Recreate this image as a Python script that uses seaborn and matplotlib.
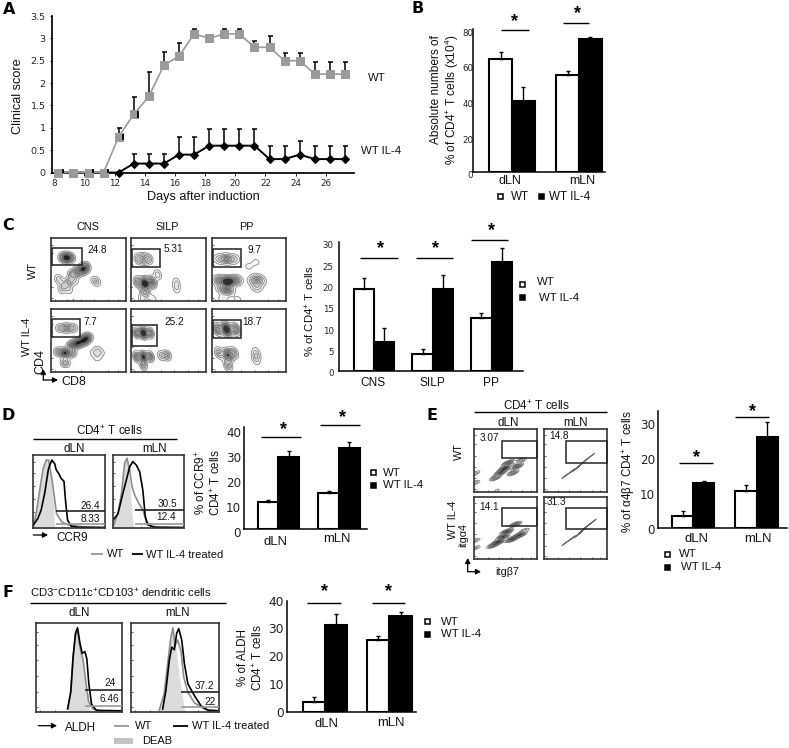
import numpy as np
import pandas as pd
import matplotlib
matplotlib.use("Agg")
import matplotlib.pyplot as plt
from matplotlib.patches import Rectangle
from matplotlib.transforms import ScaledTranslation
import seaborn as sns

sns.set_theme(style="white")
plt.rcParams['font.family'] = ['Liberation Sans', 'DejaVu Sans']
plt.rcParams['mathtext.default'] = 'regular'
plt.rcParams['axes.edgecolor'] = 'black'

W, H = 789, 748
fig = plt.figure(figsize=(W / 100, H / 100), dpi=100)

# --------------------- Data ---------------------

# A
days = list(range(8, 28))
wt_score = [0, 0, 0, 0, .8, 1.3, 1.7, 2.4, 2.6, 3.1, 3.0, 3.1, 3.1, 2.8, 2.8, 2.5, 2.5, 2.2, 2.2, 2.2]
wt_top = [0, 0, 0, 0, 1.0, 1.68, 2.25, 2.7, 2.9, 3.2, 3.0, 3.2, 3.2, 2.93, 3.05, 2.67, 2.67, 2.47, 2.47, 2.47]
il4_score = [0, 0, 0, 0, 0, .2, .2, .2, .4, .4, .6, .6, .6, .6, .3, .3, .4, .3, .3, .3]
il4_top = [0, 0, 0, 0, 0, .41, .41, .41, .8, .8, .97, .97, .97, .97, .6, .6, .7, .6, .6, .6]
day_ticks = list(range(8, 27, 2))
score_ticks = [0, .5, 1, 1.5, 2, 2.5, 3, 3.5]
score_labels = ['0', '0.5', '1', '1.5', '2', '2.5', '3', '3.5']
wt_mark_days = [8, 10, 11, 12, 13]

# bars
lymph = ['dLN', 'mLN']
b_wt, b_wt_top = [63, 54.2], [67.3, 56.6]
b_il4, b_il4_top = [39.8, 74.2], [47.7, 75.7]
sites = ['CNS', 'SILP', 'PP']
c_wt, c_wt_top = [19.1, 4.1, 12.5], [21.8, 5.2, 13.5]
c_il4, c_il4_top = [6.9, 19.1, 25.6], [10.0, 22.4, 28.8]
d_wt, d_wt_top = [10.5, 14.2], [11.6, 15]
d_il4, d_il4_top = [28.7, 32.4], [31.2, 34.7]
e_wt, e_wt_top = [3.6, 10.7], [4.8, 12.4]
e_il4, e_il4_top = [12.9, 26.2], [13.4, 30.5]
f_wt, f_wt_top = [3.4, 25.7], [5.4, 27.4]
f_il4, f_il4_top = [31.3, 34.5], [35.3, 35.9]

# C contour populations, as fractions of the plot frame
cns_wt_x = [.15, .21, .27, .28, .35, .42, .47, .10, .17, .24, .32, .14, .24, .58, .62, .30, .50]
cns_wt_y = [.69, .69, .69, .42, .46, .50, .54, .35, .25, .18, .32, .18, .30, .33, .30, .02, .02]
cns_wt_w = [2, 5, 2, 2, 3, 4, 3, 1.5, 1.5, 1, 1, 1, 2, 1, 1, .5, .4]
silp_wt_x = [.10, .17, .24, .10, .19, .28, .19, .36, .61, .61, .15, .30, .62]
silp_wt_y = [.67, .67, .67, .30, .28, .30, .14, .42, .30, .20, .03, .03, .03]
silp_wt_w = [1.2, 2, 1.2, 2, 5, 3, 2, 1, .7, .7, .8, .6, .3]
pp_wt_x = [.10, .20, .30, .10, .22, .33, .22, .14, .56, .61, .66, .61, .50, .60, .15, .35, .65]
pp_wt_y = [.67, .67, .67, .33, .31, .33, .17, .20, .32, .36, .32, .22, .55, .62, .03, .03, .03]
pp_wt_w = [1.5, 3, 1.5, 3, 6, 3, 3, 2, 1.5, 1.5, 1.5, 1.5, .6, .6, .8, .6, .4]
cns_il4_x = [.12, .21, .30, .28, .36, .44, .49, .10, .19, .28, .19, .57, .62, .67, .62, .30, .55]
cns_il4_y = [.70, .70, .70, .42, .46, .50, .55, .32, .30, .30, .14, .30, .36, .30, .22, .02, .02]
cns_il4_w = [1.5, 2.5, 1.5, 3, 4, 4, 3, 2, 4, 2, 2, .8, .8, .8, .8, .5, .3]
silp_il4_x = [.08, .17, .26, .08, .17, .26, .17, .40, .46, .50]
silp_il4_y = [.62, .62, .62, .24, .24, .24, .10, .26, .26, .26]
silp_il4_w = [2, 4, 2, 2, 3, 2, 1.5, 1, 1, 1]
pp_il4_x = [.08, .20, .32, .10, .22, .30, .22, .58, .60, .62, .60]
pp_il4_y = [.68, .68, .68, .30, .27, .30, .10, .25, .33, .25, .17]
pp_il4_w = [3, 6, 3, 2, 4, 2, 2, .7, .7, .7, .7]

# E contour populations
e_dln_wt_x = [.34, .42, .49, .54, .62, .68, .74, .02, .02, .36]
e_dln_wt_y = [.23, .31, .38, .46, .31, .41, .50, .30, .15, .03]
e_dln_wt_w = [2, 3, 4, 3, 2, 3, 1.5, 1, 1, .5]
e_mln_wt_x = [.34, .44, .52, .60, .68, .76]
e_mln_wt_y = [.26, .33, .38, .45, .52, .58]
e_mln_wt_w = [1.5, 2, 4, 2.5, 1.5, 1]
e_dln_il4_x = [.30, .39, .46, .52, .60, .66, .73, .80, .02, .02]
e_dln_il4_y = [.22, .28, .36, .44, .32, .56, .39, .46, .30, .18]
e_dln_il4_w = [2, 3, 3, 3, 3, 2, 3, 1, 1, 1]
e_mln_il4_x = [.34, .44, .55, .62, .70, .78]
e_mln_il4_y = [.26, .33, .40, .47, .54, .60]
e_mln_il4_w = [1.5, 2, 4, 3, 2, 1.5]

# D histograms
d1_fill_x = [0, .04, .09, .135, .18, .215, .25, .28, .30]
d1_fill_y = [.02, .2, .52, .8, .93, .95, .66, .35, 0]
d1_wt_x = [0, .04, .09, .135, .18, .215, .27, .325, .395, .49, .7, 1]
d1_wt_y = [.02, .2, .52, .8, .93, .93, .61, .2, .09, .045, .02, .01]
d1_il4_x = [0, .065, .11, .16, .21, .23, .26, .30, .32, .355, .39, .43, .45, .48, .53, .63, 1]
d1_il4_y = [.045, .135, .25, .48, .8, .86, .93, .88, .8, .75, .68, .64, .39, .11, .03, .014, .01]
d2_fill_x = [.01, .07, .12, .164, .197, .235, .27, .296]
d2_fill_y = [.045, .2, .48, .89, .955, .66, .16, 0]
d2_wt_x = [.01, .07, .12, .164, .197, .235, .268, .305, .352, .42, .47, .54, .68, 1]
d2_wt_y = [.045, .2, .48, .89, .955, .795, .57, .455, .36, .25, .09, .03, .014, .01]
d2_il4_x = [0, .07, .14, .188, .235, .28, .33, .376, .42, .455, .49, .587, 1]
d2_il4_y = [.11, .2, .48, .66, .84, .91, .86, .77, .52, .16, .045, .014, .01]

# F histograms
f1_fill_x = [.375, .405, .432, .46, .483, .51, .548, .587, .625]
f1_fill_y = [.03, .24, .62, .87, .93, .73, .6, .275, .03]
f1_wt_x = [.375, .405, .432, .46, .483, .51, .548, .58, .61, .66, .75, 1]
f1_wt_y = [.03, .24, .62, .87, .93, .73, .58, .33, .12, .03, .01, .01]
f1_il4_x = [.367, .405, .432, .46, .483, .51, .537, .568, .59, .614, .645, .70, 1]
f1_il4_y = [.03, .22, .62, .89, .95, .78, .66, .68, .6, .315, .085, .015, .01]
f2_fill_x = [.324, .38, .42, .458, .48, .515, .553, .61]
f2_fill_y = [.015, .2, .545, .85, .93, .7, .39, .03]
f2_wt_x = [.324, .38, .42, .458, .48, .504, .534, .573, .603, .65, .725, .84, 1]
f2_wt_y = [.015, .2, .545, .85, .95, .75, .81, .68, .39, .22, .1, .027, .01]
f2_il4_x = [.363, .40, .439, .466, .496, .523, .546, .58, .61, .65, .725, .80, .88, 1]
f2_il4_y = [.027, .24, .585, .73, .70, .89, .94, .81, .545, .315, .18, .065, .015, .01]


# --------------------- Helper functions ---------------------

def px_axes(x0, y0, x1, y1):
    return fig.add_axes([x0 / W, 1 - y1 / H, (x1 - x0) / W, (y1 - y0) / H])


over = fig.add_axes([0, 0, 1, 1], zorder=20)
over.set_xlim(0, W)
over.set_ylim(H, 0)
over.axis('off')
over.patch.set_alpha(0)


def txt(x, y, s, size=8, ha='center', rot=0, **kw):
    over.text(x, y, s, fontsize=size, ha=ha, va='center', rotation=rot, color='#111111', **kw)


def letter(x, y, s):
    txt(x, y, s, 11.5, family='DejaVu Sans', fontweight='bold', color=None) if False else \
        over.text(x, y, s, fontsize=11.5, ha='center', va='center', family='DejaVu Sans',
                  fontweight='bold', color='black')


def line(x0, y0, x1, y1, color='black', lw=1.0):
    over.plot([x0, x1], [y0, y1], color=color, lw=lw, solid_capstyle='butt')


def sig(x0, x1, y, star_x, star_y):
    line(x0, y, x1, y)
    over.text(star_x, star_y + 2.5, '*', fontsize=13, ha='center', va='center',
              fontweight='bold', color='black')


def square(x, y, filled):
    over.add_patch(Rectangle((x - 2.5, y - 2.5), 5, 5, fc='black' if filled else 'white',
                             ec='black', lw=1.1))


def gate(x0, y0, x1, y1):
    over.add_patch(Rectangle((x0, y0), x1 - x0, y1 - y0, fc='none', ec='#222222', lw=1.1))


def arrow(x0, y0, x1, y1):
    over.annotate('', xy=(x1, y1), xytext=(x0, y0),
                  arrowprops=dict(arrowstyle='-|>,head_width=.13,head_length=.25', color='black',
                                  lw=.9, shrinkA=0, shrinkB=0))


def bars(box, cats, wt, il4, wt_top, il4_top, width, xlim, ymax, ticks, tick_size, dy=0, pad=2):
    ax = px_axes(*box)
    df = pd.DataFrame({'site': cats * 2,
                       'group': ['WT'] * len(cats) + ['WT IL-4'] * len(cats),
                       'value': wt + il4})
    sns.barplot(data=df, x='site', y='value', hue='group', ax=ax, width=width, gap=0, saturation=1,
                palette={'WT': 'white', 'WT IL-4': 'black'}, edgecolor='black', linewidth=1.5,
                errorbar=None, legend=False)
    xs = [p.get_x() + p.get_width() / 2 for p in ax.patches]
    vals = wt + il4
    tops = wt_top + il4_top
    ax.errorbar(xs, vals, yerr=[[0] * len(vals), [t - v for t, v in zip(tops, vals)]], fmt='none',
                ecolor='black', elinewidth=1.0, capsize=1.7, capthick=1.0)
    ax.set_xlim(*xlim)
    ax.set_ylim(0, ymax)
    ax.set_xlabel('')
    ax.set_ylabel('')
    ax.set_xticks([])
    ax.set_yticks(ticks)
    ax.set_yticklabels([str(t) for t in ticks], family='DejaVu Sans', fontsize=tick_size)
    ax.tick_params(axis='y', length=0, pad=pad, colors='#222222')
    for lab in ax.get_yticklabels():
        lab.set_transform(lab.get_transform() + ScaledTranslation(0, -dy / 100, fig.dpi_scale_trans))
    sns.despine(ax=ax)
    for s in ['left', 'bottom']:
        ax.spines[s].set_linewidth(1.1)
    ax.patch.set_alpha(0)
    return ax


def flow_frame(ax):
    ax.set_xlim(0, 1)
    ax.set_ylim(0, 1)
    ax.set_xlabel('')
    ax.set_ylabel('')
    ax.set_xticks([.05, .22, .4, .58, .76, .9])
    ax.set_yticks([.05, .22, .4, .58, .76, .9])
    ax.set_xticklabels([])
    ax.set_yticklabels([])
    ax.tick_params(direction='in', length=1.5, width=.5, left=True, bottom=True, color='#222222')
    for s in ax.spines.values():
        s.set_linewidth(1.2)
        s.set_color('#333333')


def contour(box, xs, ys, ws):
    ax = px_axes(*box)
    sns.kdeplot(x=xs, y=ys, weights=ws, ax=ax, fill=True, cmap='Greys', levels=12, thresh=.03,
                bw_method=.26, gridsize=120)
    sns.kdeplot(x=xs, y=ys, weights=ws, ax=ax, color='#666666', levels=7, thresh=.12,
                linewidths=.45, bw_method=.26, gridsize=120)
    flow_frame(ax)


def histo(box, fill_x, fill_y, wt_x, wt_y, il4_x, il4_y):
    ax = px_axes(*box)
    ax.fill_between(fill_x, fill_y, color='#dcdcdc', lw=0)
    sns.lineplot(x=wt_x, y=wt_y, ax=ax, color='#8c8c8c', lw=1.2, estimator=None, sort=False)
    sns.lineplot(x=il4_x, y=il4_y, ax=ax, color='black', lw=1.2, estimator=None, sort=False)
    flow_frame(ax)


# --------------------- Panel A ---------------------
ax = px_axes(52.3, 16, 354, 172.5)
ax.errorbar(days, wt_score, yerr=[[0] * 20, [t - v for t, v in zip(wt_top, wt_score)]], fmt='none',
            ecolor='black', elinewidth=1.1, capsize=1.8, capthick=1.1)
ax.errorbar(days, il4_score, yerr=[[0] * 20, [t - v for t, v in zip(il4_top, il4_score)]], fmt='none',
            ecolor='black', elinewidth=1.1, capsize=1.8, capthick=1.1)
sns.lineplot(x=days, y=il4_score, ax=ax, color='black', lw=1.4, marker='D', markersize=4,
             markeredgecolor='black', clip_on=False, zorder=3)
sns.lineplot(x=days, y=wt_score, ax=ax, color='#9a9a9a', lw=1.2, marker='s', markersize=5.2,
             markeredgecolor='#9a9a9a', clip_on=False, zorder=4)
ax.vlines([d + .29 for d in wt_mark_days], [wt_score[d - 8] - .07 for d in wt_mark_days],
          [wt_score[d - 8] + .07 for d in wt_mark_days], color='black', lw=1.3, zorder=5)
ax.set_xlim(7.6, 27.6)
ax.set_ylim(0, 3.5)
ax.set_xticks([d - .27 for d in day_ticks])
ax.set_xticklabels([str(d) for d in day_ticks], family='DejaVu Sans', fontsize=6.3)
ax.set_yticks(score_ticks)
ax.set_yticklabels(score_labels, family='DejaVu Sans', fontsize=6.8)
ax.tick_params(axis='both', length=1.8, width=.7, pad=3, left=True, bottom=True, colors='#222222')
sns.despine(ax=ax)
ax.patch.set_alpha(0)
letter(9, 9, 'A')
txt(18, 96, 'Clinical score', 9.2, rot=90)
txt(203, 197, 'Days after induction', 9.2)
txt(368, 78, 'WT', 8.2, ha='left')
txt(361, 151, 'WT IL-4', 8.2, ha='left')

# --------------------- Panel B ---------------------
bars((473.3, 29, 605, 171.7), lymph, b_wt, b_il4, b_wt_top, b_il4_top, .68, (-.578, 1.39), 80,
     [0, 20, 40, 60, 80], 6.2, dy=3.3, pad=0)
letter(418, 8, 'B')
txt(436, 90, 'Absolute numbers of', 8.6, rot=90)
txt(451.7, 100, '% of CD4$^{+}$ T cells (x10$^{4}$)', 8.6, rot=90)
txt(510, 181, 'dLN', 9)
txt(582, 181, 'mLN', 9)
square(501, 196, False)
square(541.7, 196, True)
txt(510.7, 196.5, 'WT', 8.4, ha='left')
txt(549, 196.5, 'WT IL-4', 8.4, ha='left')
sig(500.7, 528.7, 30.3, 515, 19.3)
sig(563.3, 589.3, 23, 577.7, 10.7)

# --------------------- Panel C ---------------------
c_cols = [(51, 125.7), (130.7, 205.7), (211.7, 285.7)]
c_rows = [(238.3, 301), (309.3, 371.7)]
contour((c_cols[0][0], c_rows[0][0], c_cols[0][1], c_rows[0][1]), cns_wt_x, cns_wt_y, cns_wt_w)
contour((c_cols[1][0], c_rows[0][0], c_cols[1][1], c_rows[0][1]), silp_wt_x, silp_wt_y, silp_wt_w)
contour((c_cols[2][0], c_rows[0][0], c_cols[2][1], c_rows[0][1]), pp_wt_x, pp_wt_y, pp_wt_w)
contour((c_cols[0][0], c_rows[1][0], c_cols[0][1], c_rows[1][1]), cns_il4_x, cns_il4_y, cns_il4_w)
contour((c_cols[1][0], c_rows[1][0], c_cols[1][1], c_rows[1][1]), silp_il4_x, silp_il4_y, silp_il4_w)
contour((c_cols[2][0], c_rows[1][0], c_cols[2][1], c_rows[1][1]), pp_il4_x, pp_il4_y, pp_il4_w)
gate(51.7, 248.3, 81.7, 265)
gate(131.7, 249.3, 160, 266.7)
gate(212.7, 249.3, 241, 267.3)
gate(51.7, 319, 80.3, 336.7)
gate(131.7, 325, 156.7, 345.7)
gate(212.7, 320.3, 241, 338.3)
txt(96.7, 250, '24.8', 7.2)
txt(173.7, 249.3, '5.31', 7.2)
txt(254.3, 250, '9.7', 7.2)
txt(90, 322.3, '7.7', 7.2)
txt(174.3, 321.7, '25.2', 7.2)
txt(252.3, 322, '18.7', 7.2)
letter(8, 225, 'C')
txt(88.3, 226.7, 'CNS', 7.8)
txt(167.3, 226.7, 'SILP', 7.8)
txt(246.7, 226.7, 'PP', 7.8)
txt(33.3, 270, 'WT', 7.8, rot=90)
txt(26.7, 336.7, 'WT IL-4', 7.8, rot=90)
txt(40, 361.7, 'CD4', 9, rot=90)
txt(74, 382.3, 'CD8', 9)
arrow(43.3, 380, 43.3, 369)
arrow(43.3, 380, 58, 380)

bars((339.3, 241.7, 523.3, 371), sites, c_wt, c_il4, c_wt_top, c_il4_top, .69, (-.59, 2.54), 30.3,
     [0, 5, 10, 15, 20, 25, 30], 6.2, dy=2, pad=4)
txt(310.7, 311.7, '% of CD4$^{+}$ T cells', 8.2, rot=90)
txt(373, 383.3, 'CNS', 8.6)
txt(432, 383.3, 'SILP', 8.6)
txt(491.3, 383.3, 'PP', 8.6)
sig(360.3, 397.7, 258.3, 380.7, 245.7)
sig(415.7, 453, 258.3, 436, 245.7)
sig(471.3, 508.3, 240, 491.7, 227.7)
square(522.7, 284.3, False)
square(522.7, 297.7, True)
txt(536.7, 282, 'WT', 8.2, ha='left')
txt(539.3, 297.5, 'WT IL-4', 8.2, ha='left')

# --------------------- Panel D ---------------------
histo((33.3, 455, 104.7, 528.3), d1_fill_x, d1_fill_y, d1_wt_x, d1_wt_y, d1_il4_x, d1_il4_y)
histo((113, 455, 184, 528.3), d2_fill_x, d2_fill_y, d2_wt_x, d2_wt_y, d2_il4_x, d2_il4_y)
line(56.3, 511, 104.7, 511, '#222222', 1.2)
line(56.3, 524.3, 104.7, 524.3, '#999999', 1.2)
line(135, 510.3, 184, 510.3, '#222222', 1.2)
line(135, 524, 184, 524, '#999999', 1.2)
txt(90.3, 505.7, '26.4', 7.2)
txt(90.3, 519, '8.33', 7.2)
txt(167.3, 504.3, '30.5', 7.2)
txt(166.3, 517.3, '12.4', 7.2)
letter(8, 415, 'D')
txt(109.3, 430.7, 'CD4$^{+}$ T cells', 8.4)
line(33.3, 439, 176.7, 439)
txt(74, 449, 'dLN', 8.4)
txt(154.3, 449, 'mLN', 8.4)
arrow(33.3, 535, 48, 535)
txt(71.7, 538.3, 'CCR9', 8.4)
line(90.7, 554, 102.7, 554, '#999999', 1.3)
txt(107, 554, 'WT', 8, ha='left')
line(131.7, 554, 142.7, 554, 'black', 1.3)
txt(146, 554.5, 'WT IL-4 treated', 8, ha='left')

bars((244, 427.3, 366.7, 528.7), lymph, d_wt, d_il4, d_wt_top, d_il4_top, .68, (-.565, 1.456), 40.6,
     [0, 10, 20, 30, 40], 8.6, dy=3, pad=2)
txt(200.7, 483, '% of CCR9$^{+}$', 8.4, rot=90)
txt(216, 483, 'CD4$^{+}$ T cells', 8.4, rot=90)
txt(275, 541.7, 'dLN', 9.4)
txt(336.7, 539.3, 'mLN', 9.4)
sig(260.7, 301, 437.3, 283.3, 427)
sig(319.7, 360, 424.7, 342.3, 415)
square(374, 472.7, False)
square(374, 485, True)
txt(382.7, 472.7, 'WT', 8.2, ha='left')
txt(382.7, 485, 'WT IL-4', 8.2, ha='left')

# --------------------- Panel E ---------------------
contour((474, 429, 537, 492.3), e_dln_wt_x, e_dln_wt_y, e_dln_wt_w)
contour((544, 429, 606.7, 492.3), e_mln_wt_x, e_mln_wt_y, e_mln_wt_w)
contour((474, 496.7, 537, 559.3), e_dln_il4_x, e_dln_il4_y, e_dln_il4_w)
contour((544, 496.7, 606.7, 559.3), e_mln_il4_x, e_mln_il4_y, e_mln_il4_w)
gate(501.7, 440.7, 537, 458.3)
gate(565.7, 440.7, 606.7, 463.3)
gate(501.7, 508.3, 537, 526)
gate(565.7, 508.3, 606.7, 529.3)
txt(489.3, 438.3, '3.07', 7.2)
txt(559.3, 436, '14.8', 7.2)
txt(489.3, 506.7, '14.1', 7.2)
txt(556.7, 502.3, '31.3', 7.2)
letter(432, 415, 'E')
txt(536.7, 405.7, 'CD4$^{+}$ T cells', 8.4)
line(474, 412.3, 606.7, 412.3)
txt(508.3, 422.7, 'dLN', 8.4)
txt(576, 422.7, 'mLN', 8.4)
txt(459.3, 451.7, 'WT', 7.8, rot=90)
txt(452.7, 520, 'WT IL-4', 7.8, rot=90)
txt(463.3, 535, 'itg\u03b14', 7.8, rot=90)
txt(506.7, 572.3, 'itg\u03b27', 7.8)
arrow(467.7, 571.7, 467.7, 558)
arrow(467.7, 571.7, 481, 571.7)

bars((657.7, 410.7, 786.7, 528.3), lymph, e_wt, e_il4, e_wt_top, e_il4_top, .668, (-.562, 1.475), 33.6,
     [0, 10, 20, 30], 8.6, dy=1, pad=2)
txt(628.3, 471.7, '% of \u03b14\u03b27 CD4$^{+}$ T cells', 8.4, rot=90)
txt(696.7, 539.3, 'dLN', 9.4)
txt(758.3, 539.3, 'mLN', 9.4)
sig(679.3, 713.3, 463.3, 696.3, 455)
sig(735, 769, 417.3, 752.3, 409.3)
square(667.7, 554, False)
square(667.7, 567.3, True)
txt(679.3, 554, 'WT', 8.2, ha='left')
txt(681, 566.5, 'WT IL-4', 8.2, ha='left')

# --------------------- Panel F ---------------------
histo((35.7, 623.3, 122.3, 711.7), f1_fill_x, f1_fill_y, f1_wt_x, f1_wt_y, f1_il4_x, f1_il4_y)
histo((130.7, 623.3, 218.7, 711.7), f2_fill_x, f2_fill_y, f2_wt_x, f2_wt_y, f2_il4_x, f2_il4_y)
line(84.7, 690, 122.3, 690, '#222222', 1.2)
line(84.7, 706, 122.3, 706, '#999999', 1.2)
line(180.7, 692, 218.7, 692, '#222222', 1.2)
line(180.7, 707.3, 218.7, 707.3, '#999999', 1.2)
txt(110.3, 683.3, '24', 7.2)
txt(109, 699.3, '6.46', 7.2)
txt(204.7, 686, '37.2', 7.2)
txt(209.7, 701.7, '22', 7.2)
letter(8, 592.7, 'F')
txt(30, 593.3, 'CD3$^{-}$CD11c$^{+}$CD103$^{+}$ dendritic cells', 8.2, ha='left')
line(30, 603.3, 226, 603.3)
txt(79.3, 613.3, 'dLN', 8.4)
txt(177.7, 613.3, 'mLN', 8.4)
arrow(38.3, 725.7, 57, 725.7)
txt(80.3, 728.3, 'ALDH', 8.4)
line(114, 725.7, 129, 725.7, '#999999', 1.3)
txt(135, 726, 'WT', 8, ha='left')
line(173, 725.7, 187.7, 725.7, 'black', 1.3)
txt(191.7, 726, 'WT IL-4 treated', 8, ha='left')
over.add_patch(Rectangle((114, 738.3), 18.7, 5.7, fc='#c4c4c4', ec='none'))
txt(141.7, 741, 'DEAB', 8, ha='left')

bars((286.7, 600.7, 415.7, 711.7), lymph, f_wt, f_il4, f_wt_top, f_il4_top, .695, (-.596, 1.41), 40,
     [0, 10, 20, 30, 40], 8.8, dy=0, pad=2)
txt(243.3, 657.3, '% of ALDH', 8.4, rot=90)
txt(258.3, 657.3, 'CD4$^{+}$ T cells', 8.4, rot=90)
txt(326, 724.3, 'dLN', 9.4)
txt(390.7, 723.3, 'mLN', 9.4)
sig(307, 341, 602.7, 325, 589.3)
sig(372, 405.3, 602.7, 388.7, 589.3)
square(427.3, 621.7, False)
square(427.3, 634, True)
txt(440.7, 622, 'WT', 8.2, ha='left')
txt(440.7, 634, 'WT IL-4', 8.2, ha='left')

fig.savefig('out.png', dpi=100)
